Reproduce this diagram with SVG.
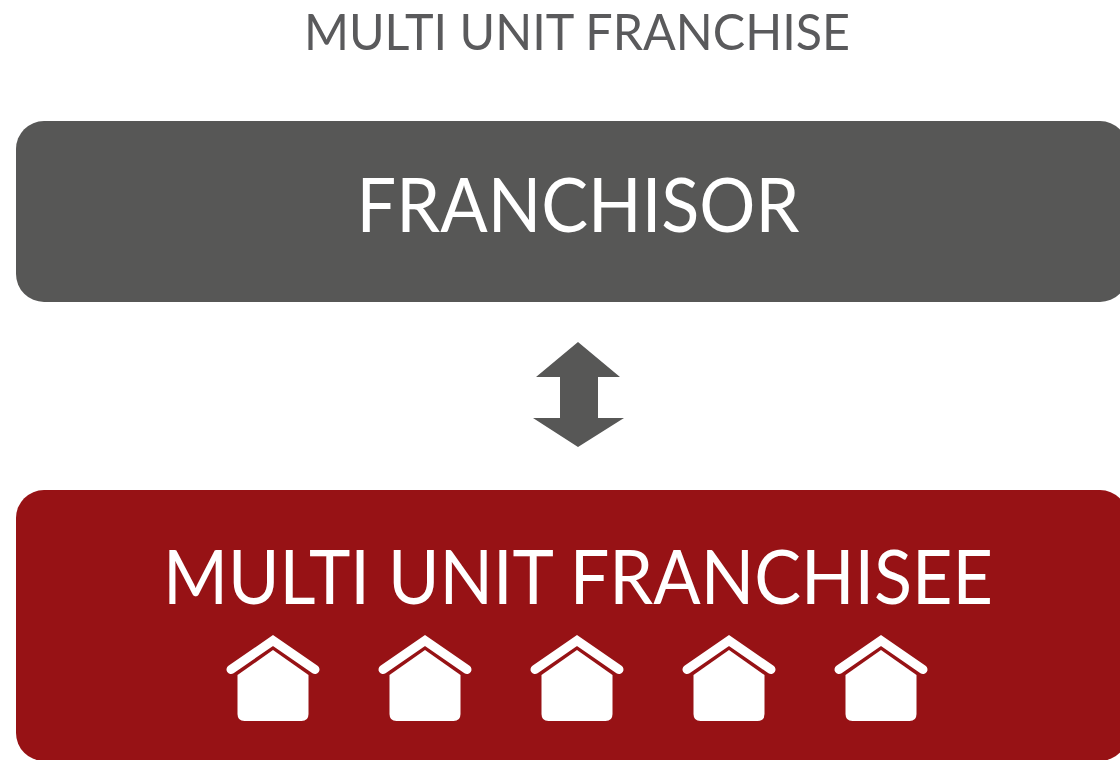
<svg xmlns="http://www.w3.org/2000/svg" width="1120" height="760" viewBox="0 0 1120 760">
<style>
text{font-family:"Lato","Open Sans","Liberation Sans",sans-serif;text-anchor:middle}
.l{fill:#fff;font-size:75px}
.roof{fill:none;stroke:#fff;stroke-width:9;stroke-linecap:round;stroke-linejoin:miter}
.body{fill:#fff}
</style>
<defs>
<g id="house">
<path class="roof" d="M-42 32.500L0 3.500L42 32.500"/>
<path class="body" d="M0 13L35.500 38V77Q35.500 84 28.500 84H-28.500Q-35.500 84-35.500 77V38Z"/>
</g>
</defs>
<rect width="1120" height="760" fill="#fff"/>
<text id="title" x="577" y="50" font-size="50" fill="#5a5a5c" textLength="546" lengthAdjust="spacingAndGlyphs">MULTI UNIT FRANCHISE</text>
<g id="franchisor">
<rect x="16" y="121" width="1112" height="181" rx="28" fill="#575756"/>
<text class="l" x="578" y="232" textLength="443" lengthAdjust="spacingAndGlyphs">FRANCHISOR</text>
</g>
<g id="connectors">
<path id="arrow" fill="#575756" d="M578 342L620 377H598V418H624L578 447L533 418H560V377H536Z"/>
</g>
<g id="franchisee">
<rect x="16" y="490" width="1112" height="271" rx="28" fill="#971215"/>
<text class="l" x="578" y="604" textLength="830" lengthAdjust="spacingAndGlyphs">MULTI UNIT FRANCHISEE</text>
<use href="#house" x="273" y="637"/>
<use href="#house" x="425" y="637"/>
<use href="#house" x="577" y="637"/>
<use href="#house" x="729" y="637"/>
<use href="#house" x="881" y="637"/>
</g>
</svg>
